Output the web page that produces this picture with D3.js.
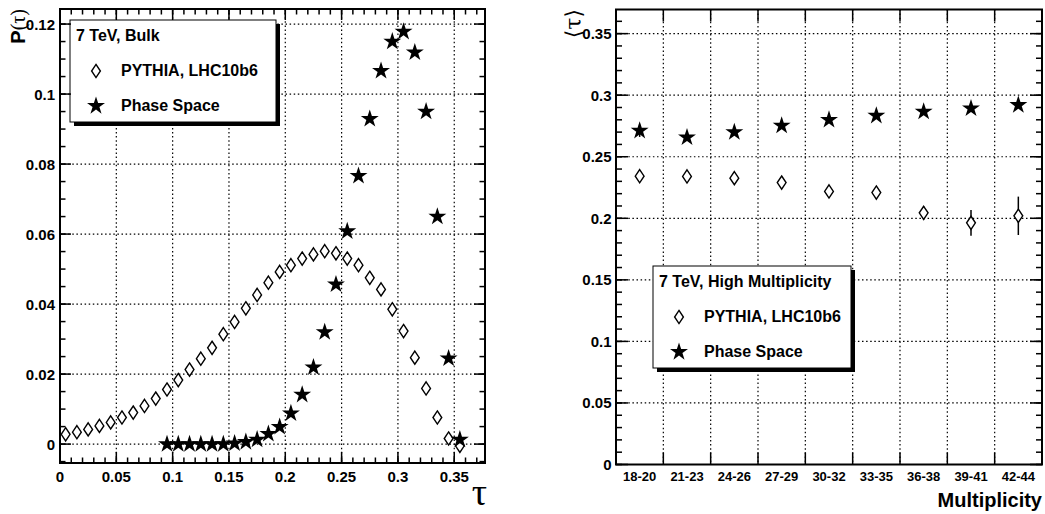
<!DOCTYPE html>
<html><head><meta charset="utf-8">
<script src="https://cdn.jsdelivr.net/npm/d3@7"></script>
<style>
body{margin:0;background:#fff}
svg{display:block}
text{font-family:"Liberation Sans",Arial,Helvetica,sans-serif;font-weight:bold;fill:#000}
</style>
</head><body><svg id="c" width="1045" height="514"></svg>
<script>
// ---------- Left panel data: P(tau), 7 TeV Bulk ----------
const tauCenters = [0.005,0.015,0.025,0.035,0.045,0.055,0.065,0.075,0.085,0.095,0.105,0.115,0.125,0.135,0.145,0.155,0.165,0.175,0.185,0.195,0.205,0.215,0.225,0.235,0.245,0.255,0.265,0.275,0.285,0.295,0.305,0.315,0.325,0.335,0.345,0.355];
const pythiaP = [0.0028,0.0034,0.0042,0.0052,0.0062,0.0076,0.0090,0.0109,0.0130,0.0156,0.0183,0.0213,0.0244,0.0275,0.0314,0.0349,0.0388,0.0426,0.0461,0.0492,0.0511,0.0530,0.0542,0.0551,0.0545,0.0530,0.0511,0.0475,0.0442,0.0385,0.0323,0.0247,0.0159,0.0076,0.0016,-0.0005];
const phaseTauCenters = [0.095,0.105,0.115,0.125,0.135,0.145,0.155,0.165,0.175,0.185,0.195,0.205,0.215,0.225,0.235,0.245,0.255,0.265,0.275,0.285,0.295,0.305,0.315,0.325,0.335,0.345,0.355];
const phaseP = [0,0,0,0,0,0,0.0002,0.0006,0.0013,0.0029,0.0049,0.0088,0.0141,0.0219,0.0320,0.0456,0.0608,0.0766,0.0929,0.1066,0.1150,0.1178,0.1119,0.0950,0.0650,0.0245,0.0013];
const leftXTicks = [0,0.05,0.1,0.15,0.2,0.25,0.3,0.35];
const leftXTickLabels = ["0","0.05","0.1","0.15","0.2","0.25","0.3","0.35"];
const leftYTicks = [0,0.02,0.04,0.06,0.08,0.1,0.12];
const leftYTickLabels = ["0","0.02","0.04","0.06","0.08","0.1","0.12"];
const leftLegendTitle = "7 TeV, Bulk";

// ---------- Right panel data: <tau> vs multiplicity ----------
const multCats = ["18-20","21-23","24-26","27-29","30-32","33-35","36-38","39-41","42-44"];
const pythiaMean = [0.2342,0.2340,0.2326,0.2290,0.2218,0.2209,0.2044,0.1963,0.2020];
const pythiaMeanErr = [0.002,0.002,0.002,0.002,0.002,0.002,0.0054,0.0105,0.0156];
const phaseMean = [0.2711,0.2657,0.2700,0.2752,0.2800,0.2833,0.2866,0.2893,0.2920];
const phaseMeanErr = [0.005,0.001,0.001,0.001,0.001,0.001,0.001,0.001,0.001];
const rightYTicks = [0,0.05,0.1,0.15,0.2,0.25,0.3,0.35];
const rightYTickLabels = ["0","0.05","0.1","0.15","0.2","0.25","0.3","0.35"];
const rightLegendTitle = "7 TeV, High Multiplicity";

const legendEntries = ["PYTHIA, LHC10b6","Phase Space"];

// ---------- drawing ----------
const svg = d3.select("#c");
svg.append("rect").attr("width",1045).attr("height",514).attr("fill","#fff");

const diamondType = { draw(ctx, size){ const w=4.4, h=6.6; ctx.moveTo(0,-h); ctx.lineTo(w,0); ctx.lineTo(0,h); ctx.lineTo(-w,0); ctx.closePath(); } };
const diamondPath = d3.symbol().type(diamondType)();
const starPath = d3.symbol().type(d3.symbolStar).size(100)();
const GRID_DASH = "1.5,2.6";

function drawDiamonds(g, xs, ys, xS, yS){
  g.selectAll(null).data(xs).join("path")
    .attr("d", diamondPath)
    .attr("transform",(d,i)=>`translate(${xS(d)},${yS(ys[i])})`)
    .attr("fill","#fff").attr("stroke","#000").attr("stroke-width",1.4);
}
function drawStars(g, xs, ys, xS, yS){
  g.selectAll(null).data(xs).join("path")
    .attr("d", starPath)
    .attr("transform",(d,i)=>`translate(${xS(d)},${yS(ys[i])})`)
    .attr("fill","#000");
}
function drawLegend(g, x, y, w, h, title){
  g.append("rect").attr("x",x+4).attr("y",y+4).attr("width",w).attr("height",h).attr("fill","#000");
  g.append("rect").attr("x",x).attr("y",y).attr("width",w).attr("height",h).attr("fill","#fff").attr("stroke","#000").attr("stroke-width",1);
  g.append("text").attr("x",x+6).attr("y",y+21).attr("font-size",16).text(title);
  g.append("path").attr("d",diamondPath).attr("transform",`translate(${x+26},${y+51})`).attr("fill","#fff").attr("stroke","#000").attr("stroke-width",1.4);
  g.append("text").attr("x",x+51).attr("y",y+56).attr("font-size",16).text(legendEntries[0]);
  g.append("path").attr("d",starPath).attr("transform",`translate(${x+26},${y+86})`).attr("fill","#000");
  g.append("text").attr("x",x+51).attr("y",y+91).attr("font-size",16).text(legendEntries[1]);
}
function drawTicks(g, positions, side, len, frame){
  const [x0,x1,y0,y1] = frame;
  positions.forEach(p=>{
    let l;
    if(side==="bottom") l=[p,y1,p,y1-len];
    else if(side==="top") l=[p,y0,p,y0+len];
    else if(side==="left") l=[x0,p,x0+len,p];
    else l=[x1,p,x1-len,p];
    g.append("line").attr("x1",l[0]).attr("y1",l[1]).attr("x2",l[2]).attr("y2",l[3]).attr("stroke","#000").attr("stroke-width",1.5);
  });
}

// ===== LEFT PANEL =====
{
  const L = {x0:60, x1:485, y0:9, y1:463};
  const x = d3.scaleLinear().domain([0,0.3773]).range([L.x0,L.x1]);
  const y = d3.scaleLinear().domain([-0.0054,0.1243]).range([L.y1,L.y0]);
  const g = svg.append("g");
  leftXTicks.filter(t=>t>0).forEach(t=>g.append("line").attr("x1",x(t)).attr("x2",x(t)).attr("y1",L.y0).attr("y2",L.y1).attr("stroke","#000").attr("stroke-width",1.2).attr("stroke-dasharray",GRID_DASH));
  leftYTicks.forEach(t=>g.append("line").attr("x1",L.x0).attr("x2",L.x1).attr("y1",y(t)).attr("y2",y(t)).attr("stroke","#000").attr("stroke-width",1.2).attr("stroke-dasharray",GRID_DASH));
  drawDiamonds(g, tauCenters, pythiaP, x, y);
  drawStars(g, phaseTauCenters, phaseP, x, y);
  drawLegend(g, 70, 20, 206, 102, leftLegendTitle);
  g.append("rect").attr("x",L.x0).attr("y",L.y0).attr("width",L.x1-L.x0).attr("height",L.y1-L.y0).attr("fill","none").attr("stroke","#000").attr("stroke-width",2);
  const fr=[L.x0,L.x1,L.y0,L.y1];
  const minorXPos = d3.range(0,38).map(i=>i/100).filter(v=>v<=0.3773).map(v=>x(v));
  const majorXPos = leftXTicks.map(v=>x(v));
  drawTicks(g, minorXPos, "bottom", 5.5, fr); drawTicks(g, minorXPos, "top", 5.5, fr);
  drawTicks(g, majorXPos, "bottom", 11, fr); drawTicks(g, majorXPos, "top", 11, fr);
  const minorY = d3.range(-1,25).map(i=>i*0.005).filter(v=>v>=-0.0054&&v<=0.1243).map(v=>y(v));
  const majorY = leftYTicks.map(v=>y(v));
  drawTicks(g, minorY, "left", 5.5, fr); drawTicks(g, minorY, "right", 5.5, fr);
  drawTicks(g, majorY, "left", 11, fr); drawTicks(g, majorY, "right", 11, fr);
  g.selectAll(null).data(leftXTicks).join("text").attr("x",d=>x(d)).attr("y",482).attr("text-anchor","middle").attr("font-size",15).text((d,i)=>leftXTickLabels[i]);
  g.selectAll(null).data(leftYTicks).join("text").attr("x",55).attr("y",d=>y(d)+5.5).attr("text-anchor","end").attr("font-size",15).text((d,i)=>leftYTickLabels[i]);
  g.append("text").attr("x",487).attr("y",505).attr("text-anchor","end").attr("font-size",38).style("font-family","'Liberation Serif','Times New Roman',serif").style("font-weight","normal").text("τ");
  const yt = g.append("text").attr("transform","translate(25,9) rotate(-90)").attr("text-anchor","end").attr("font-size",20);
  yt.append("tspan").text("P");
  yt.append("tspan").style("font-family","'Liberation Serif',serif").style("font-weight","normal").text("(τ)");
}

// ===== RIGHT PANEL =====
{
  const R = {x0:616, x1:1042, y0:9.5, y1:464.5};
  const x = d3.scaleBand().domain(multCats).range([R.x0,R.x1]).padding(0);
  const xc = c=>x(c)+x.bandwidth()/2;
  const y = d3.scaleLinear().domain([0,0.3696]).range([R.y1,R.y0]);
  const g = svg.append("g");
  const edges = multCats.slice(1).map(c=>x(c));
  edges.forEach(e=>g.append("line").attr("x1",e).attr("x2",e).attr("y1",R.y0).attr("y2",R.y1).attr("stroke","#000").attr("stroke-width",1.2).attr("stroke-dasharray",GRID_DASH));
  rightYTicks.filter(t=>t>0).forEach(t=>g.append("line").attr("x1",R.x0).attr("x2",R.x1).attr("y1",y(t)).attr("y2",y(t)).attr("stroke","#000").attr("stroke-width",1.2).attr("stroke-dasharray",GRID_DASH));
  g.selectAll(null).data(multCats).join("line").attr("x1",d=>xc(d)).attr("x2",d=>xc(d))
    .attr("y1",(d,i)=>y(pythiaMean[i]+pythiaMeanErr[i])).attr("y2",(d,i)=>y(pythiaMean[i]-pythiaMeanErr[i])).attr("stroke","#000").attr("stroke-width",1.5);
  g.selectAll(null).data(multCats).join("line").attr("x1",d=>xc(d)).attr("x2",d=>xc(d))
    .attr("y1",(d,i)=>y(phaseMean[i]+phaseMeanErr[i])).attr("y2",(d,i)=>y(phaseMean[i]-phaseMeanErr[i])).attr("stroke","#000").attr("stroke-width",1.5);
  drawDiamonds(g, multCats, pythiaMean, xc, y);
  drawStars(g, multCats, phaseMean, xc, y);
  drawLegend(g, 653, 266, 198, 102, rightLegendTitle);
  g.append("rect").attr("x",R.x0).attr("y",R.y0).attr("width",R.x1-R.x0).attr("height",R.y1-R.y0).attr("fill","none").attr("stroke","#000").attr("stroke-width",2);
  const fr=[R.x0,R.x1,R.y0,R.y1];
  drawTicks(g, edges, "bottom", 12, fr); drawTicks(g, edges, "top", 12, fr);
  const minorY = d3.range(0,37).map(i=>i/100).filter(v=>v<=0.3696).map(v=>y(v));
  const majorY = rightYTicks.map(v=>y(v));
  drawTicks(g, minorY, "left", 6, fr); drawTicks(g, minorY, "right", 6, fr);
  drawTicks(g, majorY, "left", 12, fr); drawTicks(g, majorY, "right", 12, fr);
  g.selectAll(null).data(multCats).join("text").attr("x",d=>xc(d)).attr("y",481).attr("text-anchor","middle").attr("font-size",13).text(d=>d);
  g.selectAll(null).data(rightYTicks).join("text").attr("x",611.5).attr("y",d=>y(d)+5.5).attr("text-anchor","end").attr("font-size",15).text((d,i)=>rightYTickLabels[i]);
  g.append("text").attr("x",1042).attr("y",507).attr("text-anchor","end").attr("font-size",20).text("Multiplicity");
  g.append("text").attr("transform","translate(581,9) rotate(-90)").attr("text-anchor","end").attr("font-size",22)
    .style("font-family","'DejaVu Serif',serif").style("font-weight","normal").text("⟨τ⟩");
}
</script>
</body></html>
